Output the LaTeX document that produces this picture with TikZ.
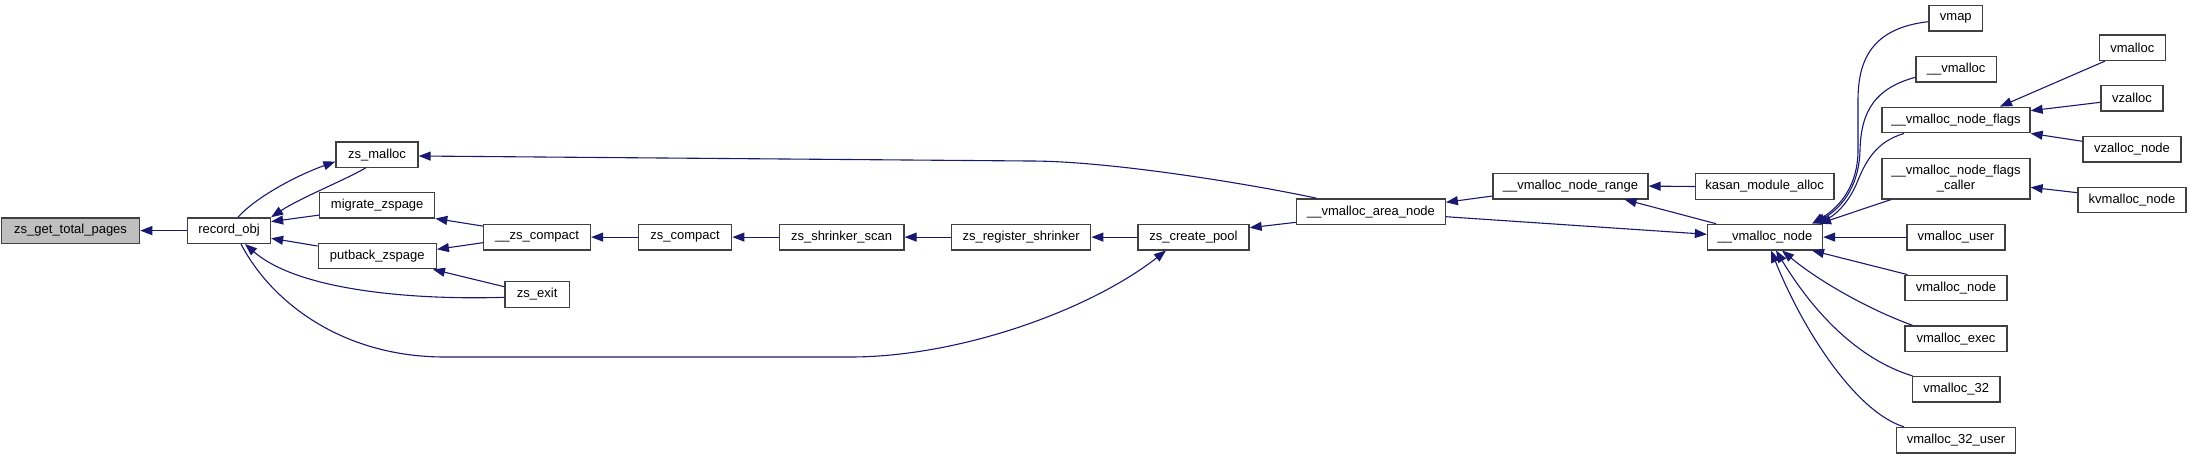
\documentclass[tikz,border=0pt]{standalone}
\usepackage{fontspec}
\setmainfont{Liberation Sans}
\usetikzlibrary{arrows.meta}
\definecolor{edgeblue}{HTML}{191970}
\definecolor{boxgray}{HTML}{404040}
\definecolor{rootfill}{HTML}{BFBFBF}
\tikzset{
  box/.style={draw=boxgray, line width=1.3pt, fill=white, minimum height=25.5pt, inner sep=0pt,
    font=\fontsize{13}{14.5}\selectfont, align=center},
  edge/.style={draw=edgeblue, line width=1.1pt, -{Triangle[length=12pt,width=9pt]}},
}
\begin{document}
\begin{tikzpicture}[x=1pt,y=-1pt]
\useasboundingbox (0,0) rectangle (2197,459);
\fill[white] (0,0) rectangle (2197,459);
% nodes
\node[box, fill=rootfill, minimum width=138pt] (gtp) at (70.6,230.6) {zs\_get\_total\_pages};
\node[box, minimum width=83pt] (rec) at (229,230.6) {record\_obj};
\node[box, minimum width=82pt] (zmal) at (377,154.6) {zs\_malloc};
\node[box, minimum width=115pt] (mig) at (377.2,205.1) {migrate\_zspage};
\node[box, minimum width=118pt] (put) at (377.3,256) {putback\_zspage};
\node[box, minimum width=107pt] (zcmpi) at (537,237.1) {\_\_zs\_compact};
\node[box, minimum width=64.5pt] (zexit) at (537.2,294.5) {zs\_exit};
\node[box, minimum width=93.5pt] (zcmp) at (685,237.1) {zs\_compact};
\node[box, minimum width=124.7pt] (zss) at (841.6,237.1) {zs\_shrinker\_scan};
\node[box, minimum width=139pt] (zrs) at (1021.2,237.1) {zs\_register\_shrinker};
\node[box, minimum width=111pt] (zcp) at (1193.5,237.1) {zs\_create\_pool};
\node[box, minimum width=148.5pt] (van) at (1371,211.6) {\_\_vmalloc\_area\_node};
\node[box, minimum width=155pt] (vnr) at (1570.5,186.1) {\_\_vmalloc\_node\_range};
\node[box, minimum width=138.5pt] (kma) at (1764.7,186.5) {kasan\_module\_alloc};
\node[box, minimum width=115pt] (vn) at (1765,237.1) {\_\_vmalloc\_node};
\node[box, minimum width=53.7pt] (vmap) at (1955.8,18.3) {vmap};
\node[box, minimum width=80.5pt] (uvmalloc) at (1956.2,69.3) {\_\_vmalloc};
\node[box, minimum width=148pt] (vnf) at (1956,120) {\_\_vmalloc\_node\_flags};
\node[box, minimum width=148pt, minimum height=40.3pt] (vnfc) at (1956,178.8) {\_\_vmalloc\_node\_flags\\\_caller};
\node[box, minimum width=66pt] (vmalloc) at (2132.3,47.7) {vmalloc};
\node[box, minimum width=62pt] (vzalloc) at (2132,98.3) {vzalloc};
\node[box, minimum width=98pt] (vzn) at (2132,149.2) {vzalloc\_node};
\node[box, minimum width=108pt] (kvn) at (2132,200) {kvmalloc\_node};
\node[box, minimum width=98pt] (vmu) at (1956,237.1) {vmalloc\_user};
\node[box, minimum width=102pt] (vmn) at (1956,288) {vmalloc\_node};
\node[box, minimum width=102pt] (vme) at (1956,338.7) {vmalloc\_exec};
\node[box, minimum width=87.5pt] (vmtt) at (1956.2,389.3) {vmalloc\_32};
\node[box, minimum width=119pt] (vmttu) at (1956,440.2) {vmalloc\_32\_user};
% edges
\draw[edge] (rec.west) -- (gtp.east);
\draw[edge] ([xshift=9pt]rec.north) .. controls (255,198) and (295,176) .. ([yshift=-7pt]zmal.west);
\draw[edge] ([xshift=-11.5pt]zmal.south) .. controls (345,180) and (300,198) .. (rec.north east);
\draw[edge] ([yshift=-10pt]mig.west) -- ([yshift=9pt]rec.east);
\draw[edge] ([yshift=10pt]put.west) -- ([yshift=-7.7pt]rec.east);
\draw[edge] ([yshift=-2.8pt]zexit.west) .. controls (420,300) and (300,292) .. ([xshift=16pt]rec.south);
\draw[edge] ([xshift=12pt]rec.south) .. controls (270,300) and (340,357) .. (445,357) -- (850,357) .. controls (960,357) and (1090,310) .. ([xshift=-27.5pt]zcp.south);
\draw[edge] ([yshift=11pt]zcmpi.west) -- (mig.south east);
\draw[edge] ([yshift=-5.6pt]zcmpi.west) -- ([yshift=6.7pt]put.east);
\draw[edge] ([yshift=7.8pt]zexit.west) -- ([xshift=-4pt]put.south east);
\draw[edge] (zcmp.west) -- (zcmpi.east);
\draw[edge] (zss.west) -- (zcmp.east);
\draw[edge] (zrs.west) -- (zss.east);
\draw[edge] (zcp.west) -- (zrs.east);
\draw[edge] ([yshift=-10.7pt]van.west) -- ([yshift=9.4pt]zcp.east);
\draw[edge] ([xshift=-54.5pt]van.north) .. controls (1250,184) and (1110,161) .. (1030,161) -- ([yshift=-1.4pt]zmal.east);
\draw[edge] ([yshift=-9.9pt]vnr.west) -- ([yshift=9.3pt]van.east);
\draw[edge] (kma.west) -- (vnr.east);
\draw[edge] ([yshift=-5.1pt]van.east) -- ([yshift=2.8pt]vn.west);
\draw[edge] ([xshift=-49pt]vn.north) -- ([xshift=54pt]vnr.south);
\draw[edge] ([yshift=-3.4pt]vmap.west) .. controls (1872,28) and (1858,60) .. (1858,100) -- (1858,150) .. controls (1858,190) and (1835,210) .. ([xshift=47pt]vn.north);
\draw[edge] ([yshift=-8pt]uvmalloc.west) .. controls (1876,88) and (1861,110) .. (1860,150) .. controls (1859,190) and (1838,210) .. ([xshift=49pt]vn.north);
\draw[edge] ([xshift=-52pt]vnf.south) .. controls (1876,142) and (1866,160) .. (1856,185) .. controls (1846,207) and (1832,217) .. ([xshift=51pt]vn.north);
\draw[edge] ([xshift=-65pt]vnfc.south) -- ([xshift=54pt]vn.north);
\draw[edge] ([xshift=-27.3pt]vmalloc.south) -- ([xshift=44pt]vnf.north);
\draw[edge] ([yshift=-4pt]vzalloc.west) -- ([yshift=9.3pt]vnf.east);
\draw[edge] ([yshift=7.9pt]vzn.west) -- (vnf.south east);
\draw[edge] ([yshift=7.3pt]kvn.west) -- ([yshift=-8.5pt]vnfc.east);
\draw[edge] (vmu.west) -- (vn.east);
\draw[edge] ([xshift=-48.5pt]vmn.north) -- ([xshift=47pt]vn.south);
\draw[edge] ([xshift=-43.5pt]vme.north) .. controls (1870,310) and (1820,282) .. ([xshift=17pt]vn.south);
\draw[edge] ([xshift=-43.7pt]vmtt.north) .. controls (1860,360) and (1815,315) .. ([xshift=11pt]vn.south);
\draw[edge] ([xshift=-52pt]vmttu.north) .. controls (1858,413) and (1805,335) .. ([xshift=6pt]vn.south);
\end{tikzpicture}
\end{document}
